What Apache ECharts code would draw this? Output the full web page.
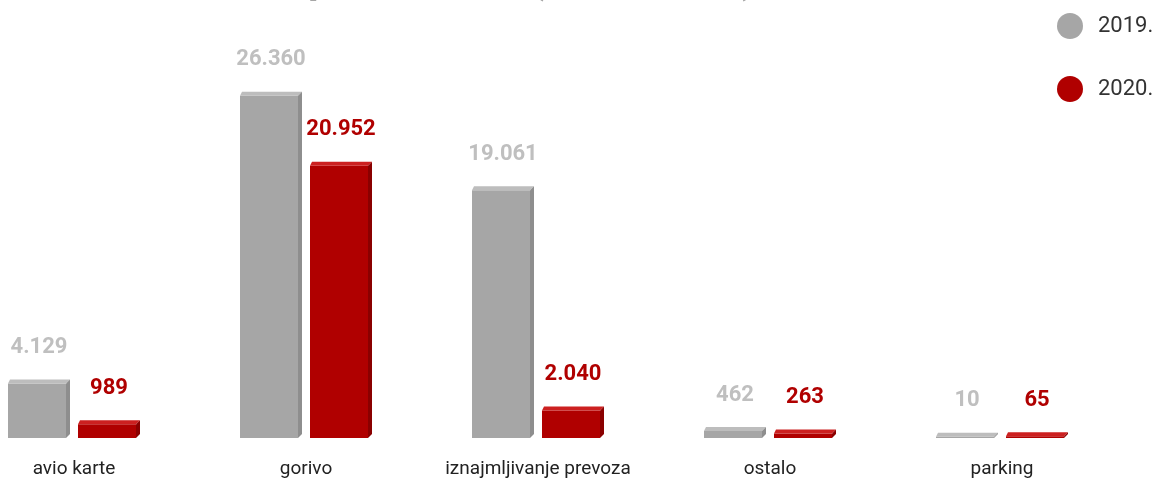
<!DOCTYPE html>
<html>
<head>
<meta charset="utf-8">
<script src="https://cdn.jsdelivr.net/npm/echarts@6/dist/echarts.min.js"></script>
<style>
  html, body { margin: 0; padding: 0; background: #fff; }
  #chart { width: 1159px; height: 485px; }
</style>
</head>
<body>
<div id="chart"></div>
<script>
// podaci
const categories = ['avio karte', 'gorivo', 'iznajmljivanje prevoza', 'ostalo', 'parking']
const years = ['2019.', '2020.']
const values2019 = [4129, 26360, 19061, 462, 10]
const values2020 = [989, 20952, 2040, 263, 65]

const colors = {
  '2019.': { front: '#a6a6a6', top: '#bdbdbd', side: '#8e8e8e', label: '#bfbfbf' },
  '2020.': { front: '#b00000', top: '#cc2020', side: '#8a0000', label: '#b00000' }
}

const fmt = v => String(v).replace(/\B(?=(\d{3})+(?!\d))/g, '.')

const chart = echarts.init(document.getElementById('chart'), null, { renderer: 'canvas' })

// 3D stubac: prednja strana, gornja i bocna
const makeRender = (year, dir) => (params, api) => {
  const c = colors[year]
  const center = api.coord([api.value(0), 0])
  const top = api.coord([api.value(0), api.value(1)])
  const base = center[1]
  const w = 62
  const x0 = dir < 0 ? center[0] - 66 : center[0] + 4
  const x1 = x0 + w
  // debljina gornje plohe
  const yt = Math.min(top[1] - 5, base - 5)
  const d = 4
  const s = 4
  return {
    type: 'group',
    children: [
      { type: 'rect', shape: { x: x0, y: yt + d, width: w - s, height: base - yt - d }, style: { fill: c.front } },
      { type: 'polygon', shape: { points: [[x0, yt + d], [x0 + 2, yt], [x1, yt], [x1 - s, yt + d]] }, style: { fill: c.top } },
      { type: 'polygon', shape: { points: [[x1 - s, yt + d], [x1, yt], [x1, base - 4], [x1 - s, base]] }, style: { fill: c.side } },
      {
        type: 'text',
        style: {
          text: fmt(api.value(1)),
          x: x0 + w / 2,
          y: yt - 21,
          align: 'center',
          verticalAlign: 'bottom',
          font: 'bold 22px Roboto',
          fill: c.label
        }
      }
    ]
  }
}

const option = {
  animation: false,
  graphic: [{
    type: 'text',
    left: 308,
    top: -40,
    style: { text: 'po vrstama (u 000 RSD)', font: 'bold 42px Roboto', fill: '#a6a6a6' }
  }],
  legend: {
    data: years,
    orient: 'vertical',
    left: 1052,
    top: 8,
    icon: 'circle',
    itemWidth: 26,
    itemHeight: 26,
    itemGap: 37,
    textStyle: { fontFamily: 'Roboto', fontSize: 22, color: '#333', padding: [0, 0, 0, 10] }
  },
  grid: { left: -42, right: 41, top: 69, bottom: 47, outerBoundsMode: 'none', containLabel: false },
  xAxis: {
    type: 'category',
    data: categories,
    axisLine: { show: false },
    axisTick: { show: false },
    axisLabel: { color: '#222', fontFamily: 'Roboto', fontSize: 19, margin: 22, interval: 0 }
  },
  yAxis: {
    type: 'value',
    min: 0,
    max: 28500,
    show: false,
    splitLine: { show: false }
  },
  series: [
    {
      name: years[0],
      type: 'custom',
      color: colors['2019.'].front,
      renderItem: makeRender('2019.', -1),
      data: values2019.map((v, i) => [i, v])
    },
    {
      name: years[1],
      type: 'custom',
      color: colors['2020.'].front,
      renderItem: makeRender('2020.', 1),
      data: values2020.map((v, i) => [i, v])
    }
  ]
}

chart.setOption(option)
</script>
</body>
</html>
